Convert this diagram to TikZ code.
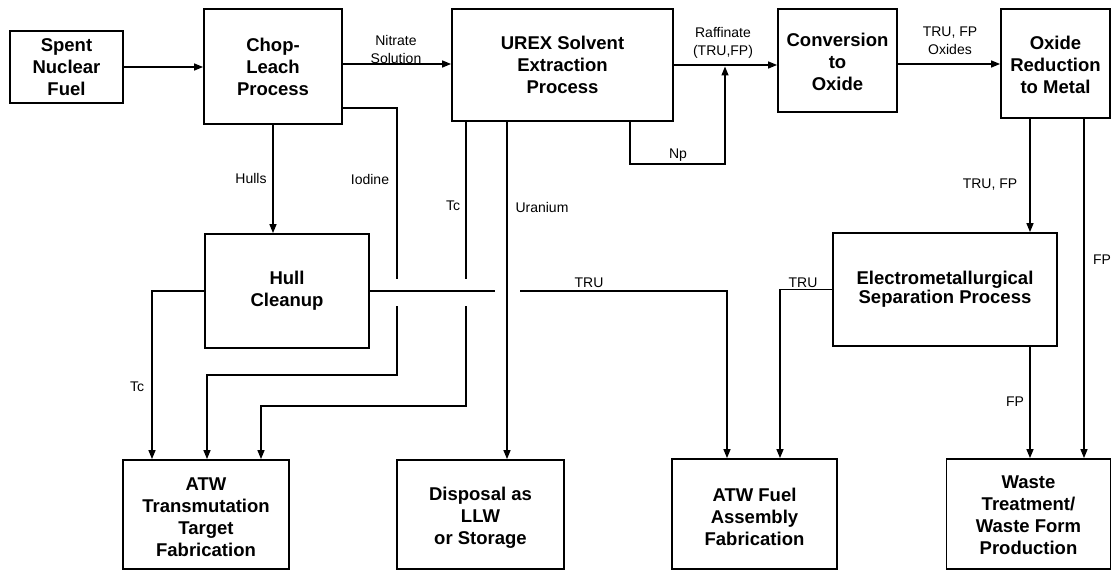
\documentclass[tikz,border=0pt]{standalone}
\usepackage{fontspec}
\setmainfont{Liberation Sans}
\usetikzlibrary{arrows.meta}
\newcommand\lowtext[2]{\raisebox{#1}[\height][\depth]{\begin{tabular}{@{}c@{}}#2\end{tabular}}}
\tikzset{
  box/.style={draw, line width=1.8pt, inner sep=0pt, align=center,
    font=\bfseries\fontsize{18.5}{22}\selectfont},
  lbl/.style={inner sep=0pt, align=center, font=\fontsize{14}{18}\selectfont},
  arr/.style={line width=1.4pt, -{Triangle[length=9pt,width=7pt]}},
  gap/.style={fill=white, draw=none}
}
\begin{document}
\begin{tikzpicture}[x=1pt,y=-1pt]
\useasboundingbox (0,0) rectangle (1112,572);
% boxes
\node[box, minimum width=113pt, minimum height=72pt] (spent) at (66.5,67) {Spent\\Nuclear\\Fuel};
\node[box, minimum width=138pt, minimum height=115pt] (chop) at (273,66.5) {Chop-\\Leach\\Process};
\node[box, minimum width=221pt, minimum height=112pt] (urex) at (562.5,65) {UREX Solvent\\Extraction\\Process};
\node[box, minimum width=119pt, minimum height=103pt] (conv) at (837.5,60.5) {\lowtext{-4pt}{Conversion\\to\\Oxide}};
\node[box, minimum width=109pt, minimum height=109pt] (oxred) at (1055.5,63.5) {\lowtext{-4pt}{Oxide\\Reduction\\to Metal}};
\node[box, minimum width=164pt, minimum height=114pt] (hull) at (287,291) {Hull\\Cleanup};
\node[box, minimum width=224pt, minimum height=113pt] (electro) at (945,289.5) {Electrometallurgical\\[-3pt]Separation Process};
\node[box, minimum width=166pt, minimum height=109pt] (target) at (206,514.5) {\lowtext{-5pt}{ATW\\Transmutation\\Target\\Fabrication}};
\node[box, minimum width=167pt, minimum height=109pt] (disposal) at (480.5,514.5) {\lowtext{-4pt}{Disposal as\\LLW\\or Storage}};
\node[box, minimum width=165pt, minimum height=110pt] (fuelasm) at (754.5,514) {\lowtext{-5pt}{ATW Fuel\\Assembly\\Fabrication}};
\node[box, minimum width=164pt, minimum height=110pt] (waste) at (1028.5,514) {\lowtext{-3pt}{Waste\\Treatment/\\Waste Form\\Production}};
% top row connectors
\draw[arr] (spent.east) -- (spent.east -| chop.west);
\draw[arr] ([yshift=2.5pt]chop.east) -- ([yshift=2.5pt]chop.east -| urex.west);
\draw[arr] (urex.east) -- (urex.east -| conv.west);
\coordinate (npj) at (725,66.5);
\draw[arr] ([xshift=67.5pt]urex.south) -- ++(0,42) -| (npj);
\draw[arr] ([yshift=-3.5pt]conv.east) -- ([yshift=-3.5pt]conv.east -| oxred.west);
% chop-leach outputs
\draw[arr] (chop.south) -- (chop.south |- hull.north);
\coordinate (ibend) at (397,375);
\draw[arr] ([yshift=-41.5pt]chop.east) -| (ibend) -| ([xshift=1pt]target.north);
% Tc from UREX
\draw[arr] ([xshift=-96.5pt]urex.south) -- ++(0,284) -| ([xshift=55pt]target.north);
% Tc from hull cleanup
\draw[arr] (hull.west) -| ([xshift=-54pt]target.north);
% gaps for TRU crossing
\fill[gap] (391,279) rectangle (403,306);
\fill[gap] (460,279) rectangle (472,306);
\draw[arr] (hull.east) -| ([xshift=-27.5pt]fuelasm.north);
% gap for uranium crossing
\fill[gap] (495,284) rectangle (520,300);
\draw[arr] ([xshift=-55.5pt]urex.south) -- ([xshift=-55.5pt]urex.south |- disposal.north);
% oxide reduction outputs
\draw[arr] ([xshift=-25.5pt]oxred.south) -- ([xshift=-25.5pt]oxred.south |- electro.north);
\draw[arr] ([xshift=28.5pt]oxred.south) -- ([xshift=28.5pt]oxred.south |- waste.north);
% electrometallurgical outputs
\draw[arr] (electro.west) -| ([xshift=25.5pt]fuelasm.north);
\draw[arr] ([xshift=85pt]electro.south) -- ([xshift=85pt]electro.south |- waste.north);
% labels
\node[lbl] (lnit) at (396,49) {Nitrate\\Solution};
\node[lbl] (lraf) at (723,43) {Raffinate\\(TRU,FP)};
\node[lbl] (lox) at (950,41) {TRU, FP\\Oxides};
\node[lbl] (lnp) at (678,155) {Np};
\node[lbl] (lhulls) at (251,178) {Hulls};
\node[lbl] (liod) at (370,179) {Iodine};
\node[lbl] (ltc1) at (453,206) {Tc};
\node[lbl] (lur) at (542,207) {Uranium};
\node[lbl] (ltrufp) at (990,185) {TRU, FP};
\node[lbl] (lfp1) at (1102,260) {FP};
\node[lbl] (ltru1) at (589,283) {TRU};
\node[lbl] (ltru2) at (803,283) {TRU};
\node[lbl] (ltc2) at (137,387) {Tc};
\node[lbl] (lfp2) at (1015,402) {FP};
\end{tikzpicture}
\end{document}
